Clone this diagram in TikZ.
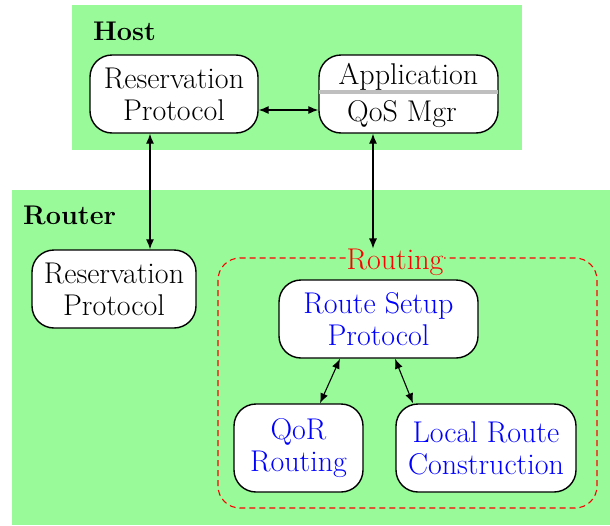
\documentclass[tikz,border=0pt]{standalone}
\usetikzlibrary{arrows.meta}
\definecolor{bggreen}{RGB}{152,250,152}
\tikzset{
  x=1pt, y=-1pt,
  txt/.style={font=\fontsize{30}{32}\selectfont, align=center, inner sep=0pt},
  rbox/.style={draw=black, line width=1.4pt, fill=white, rounded corners=22pt, txt},
  conn/.style={line width=1.1pt, {Latex[length=10pt,width=8pt]}-{Latex[length=10pt,width=8pt]}},
  grouplabel/.style={font=\fontsize{27}{32}\selectfont\bfseries, anchor=base west, inner sep=0pt},
}
\begin{document}
\begin{tikzpicture}
\useasboundingbox (0,0) rectangle (610,525);
% group areas
\fill[bggreen] (72,5) rectangle (522,150);
\fill[bggreen] (12,190) rectangle (610,525);
\node[grouplabel] (hostlab) at (93,40) {Host};
\node[grouplabel] (routerlab) at (23,224) {Router};
% host nodes
\node[rbox, minimum width=168pt, minimum height=78pt] (hres) at (174,94) {Reservation\\Protocol};
\node[rbox, minimum width=179pt, minimum height=78pt] (app) at (408.5,94) {};
\draw[black!25, line width=4pt] ([xshift=1pt]app.west |- 0,92) -- ([xshift=-1pt]app.east |- 0,92);
\node[txt, anchor=base] (apptxt) at (408.5,84) {Application};
\node[txt, anchor=base] (qostxt) at (402,121) {QoS Mgr};
% router nodes
\node[rbox, minimum width=164pt, minimum height=78pt] (rres) at (114,289) {Reservation\\Protocol};
\draw[red, line width=1.1pt, dash pattern=on 6pt off 4pt, rounded corners=22pt] (218,258) rectangle (597,508);
\node[txt, text=red, fill=bggreen, inner xsep=1pt] (rlab) at (395,262) {Routing};
\node[rbox, text=blue, minimum width=199pt, minimum height=78pt] (setup) at (378.5,319) {Route Setup\\Protocol};
\node[rbox, text=blue, minimum width=129pt, minimum height=88pt] (qor) at (298.5,448) {QoR\\Routing};
\node[rbox, text=blue, minimum width=180pt, minimum height=88pt] (local) at (486,448) {Local Route\\Construction};
% connectors
\draw[conn] ([yshift=-16pt]hres.east) -- ([yshift=-16pt]app.west);
\draw[conn] ([xshift=-24pt]hres.south) -- ([xshift=-24pt]hres.south |- rres.north);
\draw[conn] ([xshift=-35.5pt]app.south) -- ([xshift=-35.5pt]app.south |- rlab.north);
\draw[conn] ([xshift=-38.5pt]setup.south) -- ([xshift=21.5pt]qor.north);
\draw[conn] ([xshift=16.5pt]setup.south) -- ([xshift=-73pt]local.north);
\end{tikzpicture}
\end{document}
